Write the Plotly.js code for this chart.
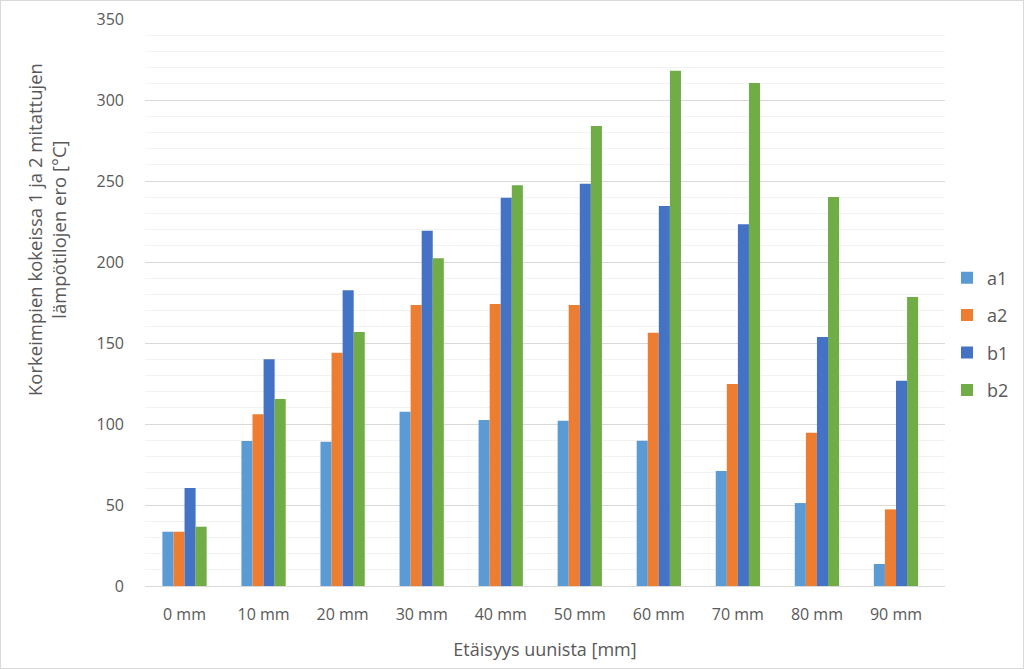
<!DOCTYPE html>
<html>
<head>
<meta charset="utf-8">
<script src="https://cdn.plot.ly/plotly-3.0.1.min.js"></script>
<style>
html,body{margin:0;padding:0;background:#fff;}
#chart{width:1022px;height:667px;border:1px solid #d9d9d9;}
</style>
</head>
<body>
<div id="chart"></div>
<script>
const categories = ["0 mm","10 mm","20 mm","30 mm","40 mm","50 mm","60 mm","70 mm","80 mm","90 mm"];
const a1 = [33.5, 89.5, 89, 107.5, 102.5, 102, 89.7, 71, 51.2, 13.6];
const a2 = [33.5, 106, 144, 173.5, 174, 173.5, 156.4, 124.7, 94.6, 47.3];
const b1 = [60.5, 140, 182.5, 219.3, 239.7, 248.3, 234.6, 223.3, 153.7, 126.7];
const b2 = [36.6, 115.4, 156.8, 202.3, 247.3, 284, 318, 310.5, 240.1, 178.4];
const seriesNames = ["a1","a2","b1","b2"];
const seriesColors = ["#5B9BD5","#ED7D31","#4472C4","#70AD47"];
const seriesData = [a1,a2,b1,b2];
const yTitle = "Korkeimpien kokeissa 1 ja 2 mitattujen<br>lämpötilojen ero [°C]";
const xTitle = "Etäisyys uunista [mm]";

const font = "Open Sans, Liberation Sans, sans-serif";
const traces = seriesData.map((d,i)=>({
  type:"bar", name:seriesNames[i], x:categories, y:d,
  marker:{color:seriesColors[i]}, legendgroup:seriesNames[i]
}));

const W = 1022, H = 667, L = 144, R = 78, T = 18, B = 82;
const pw = W - L - R, ph = H - T - B;

const layout = {
  width:W, height:H,
  margin:{l:L, r:R, t:T, b:B, autoexpand:false},
  paper_bgcolor:"#fff", plot_bgcolor:"#fff",
  font:{family:font, size:15, color:"#595959"},
  barmode:"group", bargap:0.44, bargroupgap:0,
  xaxis:{
    type:"category", range:[-0.5, 9.62], showgrid:false, zeroline:false,
    showline:true, linecolor:"#d9d9d9", linewidth:1,
    ticks:"", ticklabelstandoff:14,
    tickfont:{size:16, color:"#595959"},
    title:{text:xTitle, font:{size:18, color:"#595959"}, standoff:19}
  },
  yaxis:{
    range:[0,350], dtick:50, tick0:0,
    showgrid:true, gridcolor:"#d9d9d9", gridwidth:1,
    zeroline:false, showline:false, ticks:"",
    ticklabelstandoff:20,
    tickfont:{size:16, color:"#595959"},
    minor:{dtick:10, showgrid:true, gridcolor:"#f2f2f2", gridwidth:1}
  },
  annotations:[{
    text:yTitle, textangle:-90, showarrow:false,
    xref:"paper", yref:"paper",
    x:(45 - L)/pw, y:(H - B - 229)/ph, xanchor:"center", yanchor:"middle",
    font:{size:18.5, color:"#595959"}
  }],
  legend:{
    x:(946 - L)/pw, y:(H - B - 333)/ph, xanchor:"left", yanchor:"middle",
    font:{size:18, color:"#595959"}, tracegroupgap:11,
    itemwidth:30, traceorder:"grouped"
  },
  showlegend:true
};

Plotly.newPlot("chart", traces, layout, {displayModeBar:false, staticPlot:true});
</script>
</body>
</html>
